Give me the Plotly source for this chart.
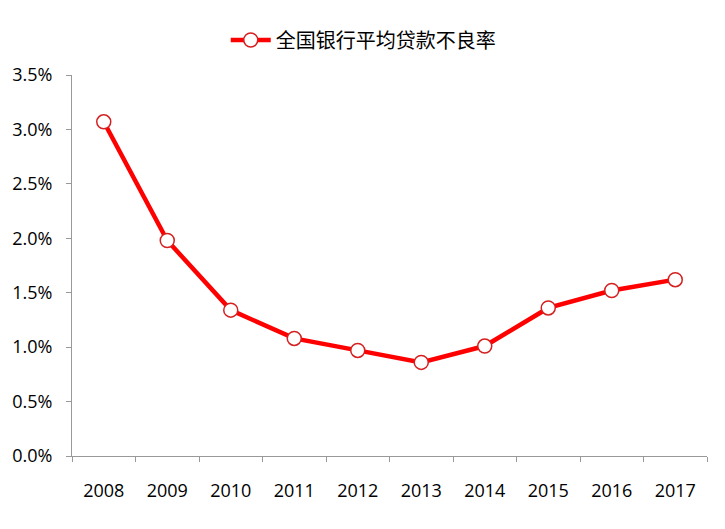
import plotly.graph_objects as go

years = ["2008", "2009", "2010", "2011", "2012", "2013", "2014", "2015", "2016", "2017"]
npl_rate = [3.07, 1.98, 1.34, 1.08, 0.97, 0.86, 1.01, 1.36, 1.52, 1.62]
y_ticks = [0, 0.5, 1.0, 1.5, 2.0, 2.5, 3.0, 3.5]
y_tick_labels = ["0.0%", "0.5%", "1.0%", "1.5%", "2.0%", "2.5%", "3.0%", "3.5%"]
series_name = "全国银行平均贷款不良率"

fig = go.Figure()
fig.add_trace(go.Scatter(
    x=years, y=npl_rate, name=series_name, mode="lines+markers",
    line=dict(color="#FF0000", width=4.5),
    marker=dict(size=14, color="white", line=dict(color="#D42020", width=1.5)),
))

font_fam = "Open Sans, Noto Sans CJK SC, sans-serif"
fig.update_layout(
    width=725, height=529,
    margin=dict(l=64, r=26, t=67, b=81),
    paper_bgcolor="white", plot_bgcolor="white",
    font=dict(family=font_fam, size=18, color="#000000"),
    showlegend=True,
    legend=dict(orientation="h", x=0.49, xanchor="center", xref="container",
                y=0.9395, yanchor="middle", yref="container",
                font=dict(size=20, family="Noto Sans CJK SC, sans-serif"), itemwidth=40),
    xaxis=dict(
        type="category", range=[-0.5, len(years) - 0.5],
        showline=True, linecolor="#999999", linewidth=1,
        ticks="outside", tickson="boundaries", ticklen=5, tickcolor="#999999",
        showgrid=False, zeroline=False, tickfont=dict(size=18), ticklabelstandoff=18,
        automargin=False,
    ),
    yaxis=dict(
        range=[0, 3.5], tickvals=y_ticks, ticktext=y_tick_labels,
        showline=True, linecolor="#999999", linewidth=1,
        ticks="outside", ticklen=5, tickcolor="#999999", ticklabelstandoff=10,
        showgrid=False, zeroline=False, tickfont=dict(size=18), automargin=False,
    ),
)

fig.write_html("out.html")
